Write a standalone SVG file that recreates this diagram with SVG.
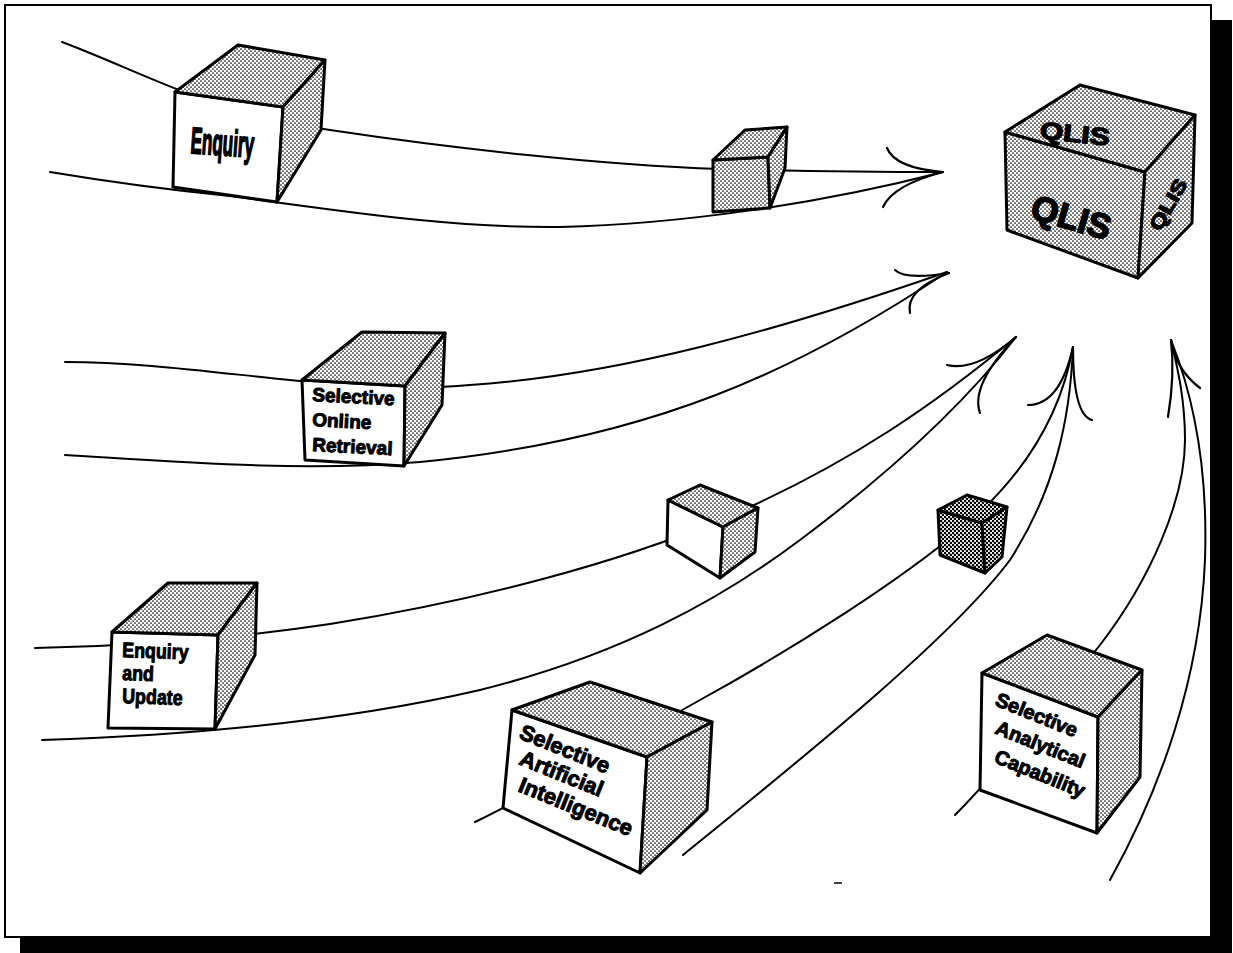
<svg xmlns="http://www.w3.org/2000/svg" width="1233" height="953" viewBox="0 0 1233 953">
<defs>
<pattern id="dots" width="4" height="4" patternUnits="userSpaceOnUse"><rect width="4" height="4" fill="#fff"/><circle cx="1" cy="1" r="0.85" fill="#000"/><circle cx="3" cy="3" r="0.85" fill="#000"/></pattern>
<pattern id="dark" width="4" height="4" patternUnits="userSpaceOnUse"><rect width="4" height="4" fill="#fff"/><circle cx="1" cy="1" r="1.3" fill="#000"/><circle cx="3" cy="3" r="1.3" fill="#000"/></pattern>
</defs>
<style>
.ln{fill:none;stroke:#000;stroke-width:2;stroke-linecap:round}
.bb{fill:none;stroke:#000;stroke-width:2.2;stroke-linecap:round}
.f{stroke:#000;stroke-width:3;stroke-linejoin:round}
.w{fill:#fff}
.d{fill:url(#dots)}
.k{fill:url(#dark)}
.t{font-family:"Liberation Sans",Arial,sans-serif;font-weight:bold;fill:#000;stroke:#000;stroke-width:1;stroke-linejoin:round}
.q{stroke-width:1.6}
</style>
<rect width="1233" height="953" fill="#fff"/>
<rect x="5" y="5" width="1206" height="932" fill="none" stroke="#000" stroke-width="2"/>
<polygon points="1211,20 1232,20 1232,953 20,953 20,937 1211,937" fill="#000"/>
<g id="connectors">
<path class="ln" d="M62,42 C110,60 150,80 200,98 C260,118 300,126 330,130 C450,148 600,165 720,169 C800,171 880,172 943,172"/>
<path class="ln" d="M50,172 C110,182 170,190 230,196 C350,212 450,228 560,227 C680,224 820,204 943,172"/>
<path class="bb" d="M887,148 Q895,168 943,172"/>
<path class="bb" d="M883,207 Q893,185 943,172"/>
<path class="ln" d="M65,362 C150,362 230,375 330,384 C400,389 440,388 470,385 C620,375 780,330 947,272"/>
<path class="ln" d="M65,455 C180,462 300,472 420,462 C650,440 800,370 947,272"/>
<path class="bb" d="M895,270 Q905,280 949,273"/>
<path class="bb" d="M910,313 Q905,290 949,273"/>
<path class="ln" d="M35,648 C150,646 250,636 330,624 C480,600 620,562 720,520 C850,465 940,400 1016,337"/>
<path class="ln" d="M42,740 C200,735 350,720 480,690 C620,655 720,600 800,540 C880,480 960,410 1016,337"/>
<path class="bb" d="M947,365 Q975,372 1016,337"/>
<path class="bb" d="M980,413 Q970,385 1016,337"/>
<path class="ln" d="M475,822 C540,790 620,745 700,700 C800,645 900,580 960,530 C1020,480 1060,420 1073,347"/>
<path class="ln" d="M683,855 C800,760 950,640 1010,560 C1055,490 1070,420 1073,347"/>
<path class="bb" d="M1028,405 Q1060,405 1073,347"/>
<path class="bb" d="M1092,420 Q1073,415 1073,347"/>
<path class="ln" d="M955,815 C990,780 1040,720 1100,645 C1150,580 1185,500 1185,440 C1185,400 1178,370 1171,340"/>
<path class="ln" d="M1110,880 C1160,790 1200,680 1205,560 C1208,470 1195,400 1171,340"/>
<path class="bb" d="M1168,417 Q1175,375 1171,340"/>
<path class="bb" d="M1200,388 Q1176,370 1171,340"/>
<line x1="834" y1="883" x2="842" y2="883" stroke="#000" stroke-width="1.5"/>
</g>
<g id="qlis">
<polygon class="f d" points="1005,132 1145,172 1138,278 1007,230"/>
<polygon class="f d" points="1005,132 1080,85 1195,115 1145,172"/>
<polygon class="f d" points="1145,172 1195,115 1192,223 1138,278"/>
<text class="t q" font-size="35" text-anchor="middle" transform="translate(1068,229) rotate(16)">QLIS</text>
<text class="t q" font-size="30" text-anchor="middle" transform="translate(1074,142) rotate(6) scale(1,0.8)">QLIS</text>
<text class="t q" font-size="24" text-anchor="middle" transform="translate(1174,208) rotate(-60) scale(1,0.8)">QLIS</text>
</g>
<g id="enquiry">
<polygon class="f w" points="175,92 283,107 277,202 173,187"/>
<polygon class="f d" points="175,92 238,45 325,60 283,107"/>
<polygon class="f d" points="283,107 325,60 321,130 277,202"/>
<text class="t" font-size="37" transform="translate(190,153) rotate(4) scale(0.46,1)" style="stroke-width:1.8">Enquiry</text>
</g>
<g id="small1">
<polygon class="f d" points="713,160 768,157 770,208 713,212"/>
<polygon class="f d" points="713,160 745,130 787,127 768,157"/>
<polygon class="f d" points="768,157 787,127 785,168 770,208"/>
</g>
<g id="online">
<polygon class="f w" points="302,380 405,386 404,466 305,460"/>
<polygon class="f d" points="302,380 362,332 445,333 405,386"/>
<polygon class="f d" points="405,386 445,333 442,405 404,466"/>
<text class="t" font-size="19" transform="translate(312,401) rotate(3)">Selective</text>
<text class="t" font-size="19" transform="translate(312,426) rotate(3)">Online</text>
<text class="t" font-size="19" transform="translate(312,451) rotate(3)">Retrieval</text>
</g>
<g id="small2">
<polygon class="f w" points="668,500 723,527 720,578 667,545"/>
<polygon class="f d" points="668,500 700,485 758,508 723,527"/>
<polygon class="f d" points="723,527 758,508 755,552 720,578"/>
</g>
<g id="small3">
<polygon class="f k" points="938,510 982,523 985,573 940,555"/>
<polygon class="f k" points="938,510 967,495 1007,507 982,523"/>
<polygon class="f k" points="982,523 1007,507 1002,557 985,573"/>
</g>
<g id="update">
<polygon class="f w" points="112,632 218,635 215,729 108,728"/>
<polygon class="f d" points="112,632 168,583 257,583 218,635"/>
<polygon class="f d" points="218,635 257,583 255,655 215,729"/>
<text class="t" font-size="21" transform="translate(122,657) rotate(2) scale(0.85,1)">Enquiry</text>
<text class="t" font-size="21" transform="translate(122,680) rotate(2) scale(0.85,1)">and</text>
<text class="t" font-size="21" transform="translate(122,703) rotate(2) scale(0.85,1)">Update</text>
</g>
<g id="ai">
<polygon class="f w" points="512,710 647,757 640,873 503,808"/>
<polygon class="f d" points="512,710 590,682 712,722 647,757"/>
<polygon class="f d" points="647,757 712,722 707,810 640,873"/>
<text class="t" font-size="22" transform="translate(518,738) rotate(22)">Selective</text>
<text class="t" font-size="22" transform="translate(518,764) rotate(22)">Artificial</text>
<text class="t" font-size="22" transform="translate(517,791) rotate(22)">Intelligence</text>
</g>
<g id="analytical">
<polygon class="f w" points="982,673 1098,717 1097,833 980,790"/>
<polygon class="f d" points="982,673 1047,635 1142,670 1098,717"/>
<polygon class="f d" points="1098,717 1142,670 1140,777 1097,833"/>
<text class="t" font-size="20" transform="translate(994,705) rotate(22)">Selective</text>
<text class="t" font-size="20" transform="translate(994,733) rotate(22)">Analytical</text>
<text class="t" font-size="20" transform="translate(993,762) rotate(22)">Capability</text>
</g>
</svg>
